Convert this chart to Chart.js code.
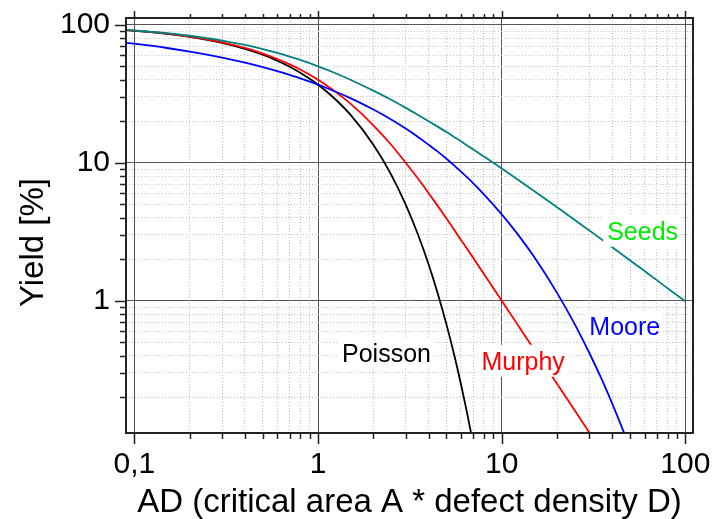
<!DOCTYPE html>
<html>
<head>
<meta charset="utf-8">
<script src="https://cdn.jsdelivr.net/npm/chart.js@4.4.1/dist/chart.umd.min.js"></script>
<style>
    html, body { margin: 0; padding: 0; background: #fff; }
</style>
</head>
<body>
<canvas id="yieldChart" width="716" height="519"></canvas>
<script>
// AD = critical area A * defect density D
const adValues = [0.09, 0.1, 0.15, 0.2, 0.3, 0.4, 0.5, 0.6, 0.7, 0.8, 1, 1.2, 1.5, 2, 2.5, 3, 3.5, 4, 4.5, 5,
    5.5, 6, 6.5, 7, 8, 10, 12, 15, 20, 25, 30, 35, 40, 45, 50, 60, 70, 80, 100];

// Yield [%] per model
const poissonYield = [91.4, 90.5, 86.1, 81.9, 74.1, 67.0, 60.7, 54.9, 49.7, 44.9, 36.8, 30.1, 22.3, 13.5, 8.21, 4.98, 3.02, 1.83, 1.11, 0.674,
    0.409, 0.248, 0.150, 0.091, 0.034, null, null, null, null, null, null, null, null, null, null, null, null, null, null];
const murphyYield = [91.5, 90.6, 86.2, 82.1, 74.6, 67.9, 61.9, 56.5, 51.7, 47.4, 40.0, 33.9, 26.8, 18.7, 13.5, 10.0, 7.68, 6.02, 4.83, 3.95,
    3.28, 2.76, 2.36, 2.04, 1.56, 1.00, 0.694, 0.444, 0.250, 0.160, 0.111, 0.082, null, null, null, null, null, null, null];
const mooreYield = [74.1, 72.9, 67.9, 63.9, 57.8, 53.1, 49.3, 46.1, 43.3, 40.9, 36.8, 33.4, 29.4, 24.3, 20.6, 17.7, 15.4, 13.5, 12.0, 10.7,
    9.58, 8.63, 7.81, 7.10, 5.91, 4.23, 3.13, 2.08, 1.14, 0.674, 0.418, 0.270, 0.179, 0.122, 0.085, null, null, null, null];
const seedsYield = [91.7, 90.9, 87.0, 83.3, 76.9, 71.4, 66.7, 62.5, 58.8, 55.6, 50.0, 45.5, 40.0, 33.3, 28.6, 25.0, 22.2, 20.0, 18.2, 16.7,
    15.4, 14.3, 13.3, 12.5, 11.1, 9.09, 7.69, 6.25, 4.76, 3.85, 3.23, 2.78, 2.44, 2.17, 1.96, 1.64, 1.41, 1.23, 0.99];

// Labelled decades on each axis
const xDecades = [0.1, 1, 10, 100];
const yDecades = [1, 10, 100];

const fontFamily = '"Liberation Sans", Arial, sans-serif';

const isDecade = v => Math.abs(Math.log10(v) - Math.round(Math.log10(v))) < 1e-6;

// 1..9 steps inside every decade, clipped to the axis range
function logTicks(min, max) {
    const ticks = [];
    for (let e = Math.floor(Math.log10(min)); e <= Math.ceil(Math.log10(max)); e++) {
        for (let m = 1; m <= 9; m++) {
            const v = parseFloat((m * Math.pow(10, e)).toPrecision(6));
            if (v >= min && v <= max) ticks.push({ value: v });
        }
    }
    return ticks;
}

const toPoints = ys => adValues.map((x, i) => ({ x: x, y: ys[i] }));

// fixed plot box: no extra room for overhanging tick labels
function fixBox(s, size) {
    if (s.isHorizontal()) s.height = size; else s.width = size;
    s.paddingTop = s.paddingBottom = s.paddingLeft = s.paddingRight = 0;
}

// Curve names written next to the curves, white box behind
const curveLabels = [
    { text: 'Poisson', color: '#000000', x: 1.35, y: 0.36 },
    { text: 'Murphy', color: '#ff0000', x: 7.76, y: 0.316 },
    { text: 'Moore', color: '#0000ff', x: 30, y: 0.567 },
    { text: 'Seeds', color: '#00ee00', x: 37.5, y: 2.77 }
];

const curveLabelPlugin = {
    id: 'curveLabels',
    afterDatasetsDraw(chart) {
        const { ctx, scales: { x, y } } = chart;
        ctx.save();
        ctx.font = '25px ' + fontFamily;
        ctx.textBaseline = 'alphabetic';
        ctx.textAlign = 'left';
        curveLabels.forEach(l => {
            const px = x.getPixelForValue(l.x);
            const py = y.getPixelForValue(l.y);
            const w = ctx.measureText(l.text).width;
            ctx.fillStyle = '#fff';
            ctx.fillRect(px - 4, py - 25, w + 7, 32);
            ctx.fillStyle = l.color;
            ctx.fillText(l.text, px, py);
        });
        ctx.restore();
    }
};

// Box round the plot, tick marks (bottom, top, left) and the y title
const framePlugin = {
    id: 'frame',
    afterDraw(chart) {
        const { ctx, chartArea: a, scales: { x, y } } = chart;
        ctx.save();
        ctx.strokeStyle = '#222';
        ctx.lineWidth = 1.5;
        ctx.beginPath();
        x.ticks.forEach(t => {
            const px = Math.round(x.getPixelForValue(t.value)) + 0.5;
            const major = isDecade(t.value);
            ctx.moveTo(px, a.bottom);
            ctx.lineTo(px, a.bottom + (major ? 11 : 6));
            ctx.moveTo(px, a.top);
            ctx.lineTo(px, a.top - (major ? 7 : 4));
        });
        y.ticks.forEach(t => {
            const py = Math.round(y.getPixelForValue(t.value)) + 0.5;
            const major = isDecade(t.value);
            ctx.moveTo(a.left, py);
            ctx.lineTo(a.left - (major ? 11 : 6), py);
        });
        ctx.stroke();
        ctx.lineWidth = 2;
        ctx.strokeRect(a.left, a.top, a.right - a.left, a.bottom - a.top);

        ctx.fillStyle = '#000';
        ctx.font = '33px ' + fontFamily;
        ctx.textAlign = 'center';
        ctx.textBaseline = 'middle';
        ctx.translate(34, (a.top + a.bottom) / 2 + 17);
        ctx.rotate(-Math.PI / 2);
        ctx.fillText('Yield [%]', 0, 0);
        ctx.restore();
    }
};

const gridColor = c => c.tick && isDecade(c.tick.value) ? '#555' : '#c4c4c4';
const gridDash = c => c.tick && !isDecade(c.tick.value) ? [1, 2] : [];

new Chart(document.getElementById('yieldChart'), {
    type: 'line',
    data: {
        datasets: [
            { label: 'Seeds', data: toPoints(seedsYield), borderColor: '#008080' },
            { label: 'Moore', data: toPoints(mooreYield), borderColor: '#0000ff' },
            { label: 'Murphy', data: toPoints(murphyYield), borderColor: '#ff0000' },
            { label: 'Poisson', data: toPoints(poissonYield), borderColor: '#000000' }
        ]
    },
    options: {
        responsive: false,
        animation: false,
        layout: { padding: { top: 18, right: 23, left: 0, bottom: 0 } },
        elements: {
            line: { borderWidth: 1.8, cubicInterpolationMode: 'monotone', fill: false },
            point: { radius: 0, hoverRadius: 0 }
        },
        plugins: {
            legend: { display: false },
            tooltip: { enabled: false }
        },
        scales: {
            x: {
                type: 'logarithmic',
                position: 'bottom',
                min: 0.09,
                max: 110,
                afterBuildTicks: s => { s.ticks = logTicks(0.1, 100); },
                afterFit: s => fixBox(s, 86),
                grid: { color: gridColor, lineWidth: 1, drawTicks: false },
                border: { display: false, dash: gridDash },
                ticks: {
                    autoSkip: false,
                    maxRotation: 0,
                    padding: 14,
                    color: '#000',
                    font: { family: fontFamily, size: 30 },
                    callback: v => xDecades.includes(v) ? String(v).replace('.', ',') : ''
                },
                title: {
                    display: true,
                    text: 'AD (critical area A * defect density D)',
                    color: '#000',
                    font: { family: fontFamily, size: 33, lineHeight: 1 },
                    padding: { top: 0, bottom: 0 }
                }
            },
            y: {
                type: 'logarithmic',
                position: 'left',
                min: 0.11,
                max: 112,
                afterBuildTicks: s => { s.ticks = logTicks(0.11, 112); },
                afterFit: s => fixBox(s, 126),
                grid: { color: gridColor, lineWidth: 1, drawTicks: false },
                border: { display: false, dash: gridDash },
                ticks: {
                    autoSkip: false,
                    padding: 16,
                    color: '#000',
                    font: { family: fontFamily, size: 30 },
                    callback: v => yDecades.includes(v) ? String(v) : ''
                }
            }
        }
    },
    plugins: [curveLabelPlugin, framePlugin]
});
</script>
</body>
</html>
